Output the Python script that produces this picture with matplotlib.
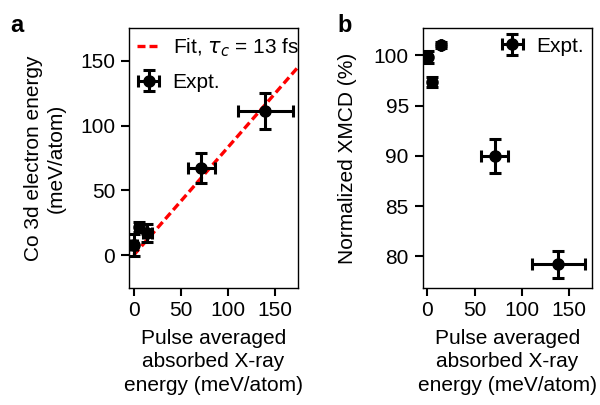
import numpy as np
import matplotlib.pyplot as plt

plt.rcParams['font.family'] = ['Liberation Sans', 'DejaVu Sans']
plt.rcParams['font.size'] = 15
plt.rcParams['mathtext.fontset'] = 'dejavusans'

# absorbed X-ray energy (meV/atom)
x_abs = [0, 5.7, 14.5, 72, 140]
x_abs_err = [3, 4, 5, 14.5, 29]

# panel a: Co 3d electron energy (meV/atom)
e_co = [8, 21.5, 17, 67.5, 111]
e_co_err = [8.5, 4, 7, 11.5, 14]
fit_slope = 0.83
fit_x = [0, 175]

# panel b: normalized XMCD (%)
x_b = [0.3, 5.0, 14.5, 71.5, 139]
x_b_err = [0, 0, 0, 14.5, 28.5]
xmcd = [99.85, 97.35, 101.05, 90.0, 79.2]
xmcd_err = [0.6, 0.5, 0.3, 1.7, 1.3]

xlabel = 'Pulse averaged\nabsorbed X-ray\nenergy (meV/atom)'

fig = plt.figure(figsize=(6, 4.05), dpi=100)
ax1 = fig.add_axes([0.215, 0.290, 0.282, 0.640])
ax2 = fig.add_axes([0.7045, 0.290, 0.2827, 0.640])

eb_kw = dict(fmt='o', color='black', ms=8, elinewidth=2.2, capsize=4, capthick=2.2)

fx = np.array(fit_x)
ax1.plot(fx, fit_slope * fx, color='#ff0000', lw=2.4, dashes=(2.4, 1.2),
         label=r'Fit, $\tau_c$ = 13 fs')
ax1.errorbar(x_abs, e_co, xerr=x_abs_err, yerr=e_co_err, label='Expt.', **eb_kw)
ax1.set_xlim(-5, 175)
ax1.set_ylim(-25, 175)
ax1.set_xticks([0, 50, 100, 150])
ax1.set_yticks([0, 50, 100, 150])
ax1.set_xlabel(xlabel, linespacing=1.3, labelpad=6)
ax1.set_ylabel('Co 3d electron energy\n(meV/atom)', linespacing=1.3, labelpad=10)
ax1.legend(loc='upper left', frameon=False, handlelength=1.1, handletextpad=0.6,
           borderaxespad=0.1, labelspacing=0.65, borderpad=0.3)

ax2.errorbar(x_b, xmcd, xerr=x_b_err, yerr=xmcd_err, label='Expt.', **eb_kw)
ax2.set_xlim(-5, 175)
ax2.set_ylim(76.9, 102.7)
ax2.set_xticks([0, 50, 100, 150])
ax2.set_yticks([80, 85, 90, 95, 100])
ax2.set_xlabel(xlabel, linespacing=1.3, labelpad=6)
ax2.set_ylabel('Normalized XMCD (%)', labelpad=12)
ax2.legend(loc='upper right', frameon=False, handlelength=1.3, handletextpad=0.5,
           borderaxespad=0.1, borderpad=0.3)

for ax in (ax1, ax2):
    ax.tick_params(direction='out', length=6, width=1.5, labelsize=15, pad=4)
    for s in ax.spines.values():
        s.set_linewidth(1.0)

fig.text(0.017, 0.921, 'a', fontsize=17, fontweight='bold')
fig.text(0.562, 0.921, 'b', fontsize=17, fontweight='bold')

fig.savefig('out.png', dpi=100)
